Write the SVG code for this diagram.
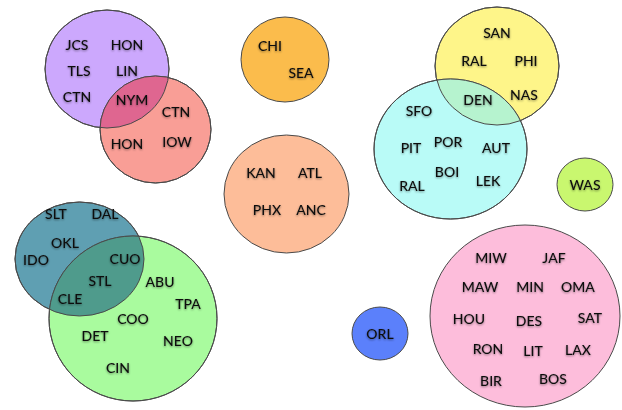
<svg xmlns="http://www.w3.org/2000/svg" width="622" height="410" viewBox="0 0 622 410">
<style>
.c{stroke:#4a4a4a;stroke-width:1}
.o{fill:none;stroke:#4a4a4a;stroke-width:1}
text{font-family:Lato,"Open Sans","Liberation Sans",sans-serif;font-size:14px;font-weight:500;fill:#111;text-anchor:middle;dominant-baseline:central;filter:url(#sh)}
</style>
<defs>
<filter id="sh" x="-20%" y="-40%" width="140%" height="180%">
<feDropShadow dx="0" dy="1" stdDeviation="1" flood-color="#000" flood-opacity="0.45"/>
</filter>
<clipPath id="cpPur"><ellipse cx="107" cy="69" rx="62" ry="59"/></clipPath>
<clipPath id="cpYel"><ellipse cx="497" cy="66" rx="62" ry="59"/></clipPath>
<clipPath id="cpTeal"><ellipse cx="79.5" cy="259" rx="64.5" ry="57"/></clipPath>
</defs>

<g id="purple"><ellipse class="c" cx="107" cy="69" rx="62" ry="59" fill="#cca8fd"/></g>
<g id="red"><ellipse class="c" cx="155.5" cy="129.5" rx="55.5" ry="53.5" fill="#f99e96"/></g>
<g id="purple-red-overlap"><ellipse cx="155.5" cy="129.5" rx="55.5" ry="53.5" fill="#df6690" clip-path="url(#cpPur)"/>
<ellipse class="o" cx="107" cy="69" rx="62" ry="59"/><ellipse class="o" cx="155.5" cy="129.5" rx="55.5" ry="53.5"/></g>

<g id="orange"><ellipse class="c" cx="285" cy="59.5" rx="44" ry="42.5" fill="#fbbc4c"/></g>
<g id="salmon"><ellipse class="c" cx="286.5" cy="194" rx="62.5" ry="59" fill="#fdbd99"/></g>

<g id="yellow"><ellipse class="c" cx="497" cy="66" rx="62" ry="59" fill="#fef589"/></g>
<g id="cyan"><ellipse class="c" cx="450.5" cy="149" rx="76.5" ry="70" fill="#b9fbf7"/></g>
<g id="yellow-cyan-overlap"><ellipse cx="450.5" cy="149" rx="76.5" ry="70" fill="#b6f3cf" clip-path="url(#cpYel)"/>
<ellipse class="o" cx="497" cy="66" rx="62" ry="59"/><ellipse class="o" cx="450.5" cy="149" rx="76.5" ry="70"/></g>

<g id="was"><ellipse class="c" cx="585" cy="184.5" rx="28" ry="26.5" fill="#c9f76f"/></g>

<g id="teal"><ellipse class="c" cx="79.5" cy="259" rx="64.5" ry="57" fill="#5f9fb2"/></g>
<g id="green"><ellipse class="c" cx="133" cy="318.5" rx="84" ry="82.5" fill="#a9fb9e"/></g>
<g id="teal-green-overlap"><ellipse cx="133" cy="318.5" rx="84" ry="82.5" fill="#4f9b8c" clip-path="url(#cpTeal)"/>
<ellipse class="o" cx="79.5" cy="259" rx="64.5" ry="57"/><ellipse class="o" cx="133" cy="318.5" rx="84" ry="82.5"/></g>

<g id="orl"><ellipse class="c" cx="380" cy="333.5" rx="28" ry="26.5" fill="#5b80fb"/></g>
<g id="pink"><ellipse class="c" cx="525" cy="316" rx="95" ry="91" fill="#fdbddb"/></g>

<g id="labels">
<text x="77" y="44">JCS</text><text x="127" y="44">HON</text>
<text x="79" y="70">TLS</text><text x="127" y="70">LIN</text>
<text x="77" y="96">CTN</text><text x="132" y="99">NYM</text>
<text x="176" y="111">CTN</text><text x="127" y="143">HON</text><text x="177" y="141">IOW</text>

<text x="270" y="45">CHI</text><text x="301" y="72">SEA</text>
<text x="261" y="172">KAN</text><text x="310" y="172">ATL</text>
<text x="267" y="209">PHX</text><text x="311" y="209">ANC</text>

<text x="497" y="32">SAN</text><text x="474" y="60">RAL</text><text x="526" y="60">PHI</text>
<text x="524" y="94">NAS</text><text x="478" y="99">DEN</text>
<text x="419" y="110">SFO</text><text x="411" y="147">PIT</text><text x="448" y="141">POR</text>
<text x="496" y="147">AUT</text><text x="447" y="171">BOI</text><text x="488" y="180">LEK</text>
<text x="412" y="185">RAL</text>
<text x="585" y="184">WAS</text>

<text x="56" y="213">SLT</text><text x="105" y="213">DAL</text>
<text x="65" y="242">OKL</text><text x="36" y="259">IDO</text>
<text x="125" y="258">CUO</text><text x="100" y="280">STL</text><text x="70" y="298">CLE</text>
<text x="160" y="281">ABU</text><text x="188" y="303">TPA</text><text x="133" y="318">COO</text>
<text x="95" y="335">DET</text><text x="178" y="340">NEO</text><text x="118" y="367">CIN</text>

<text x="380" y="333">ORL</text>

<text x="491" y="257">MIW</text><text x="554" y="257">JAF</text>
<text x="480" y="286">MAW</text><text x="530" y="286">MIN</text><text x="578" y="286">OMA</text>
<text x="469" y="318">HOU</text><text x="529" y="320">DES</text><text x="590" y="317">SAT</text>
<text x="488" y="348">RON</text><text x="533" y="350">LIT</text><text x="578" y="349">LAX</text>
<text x="491" y="380">BIR</text><text x="553" y="378">BOS</text>
</g>
</svg>
